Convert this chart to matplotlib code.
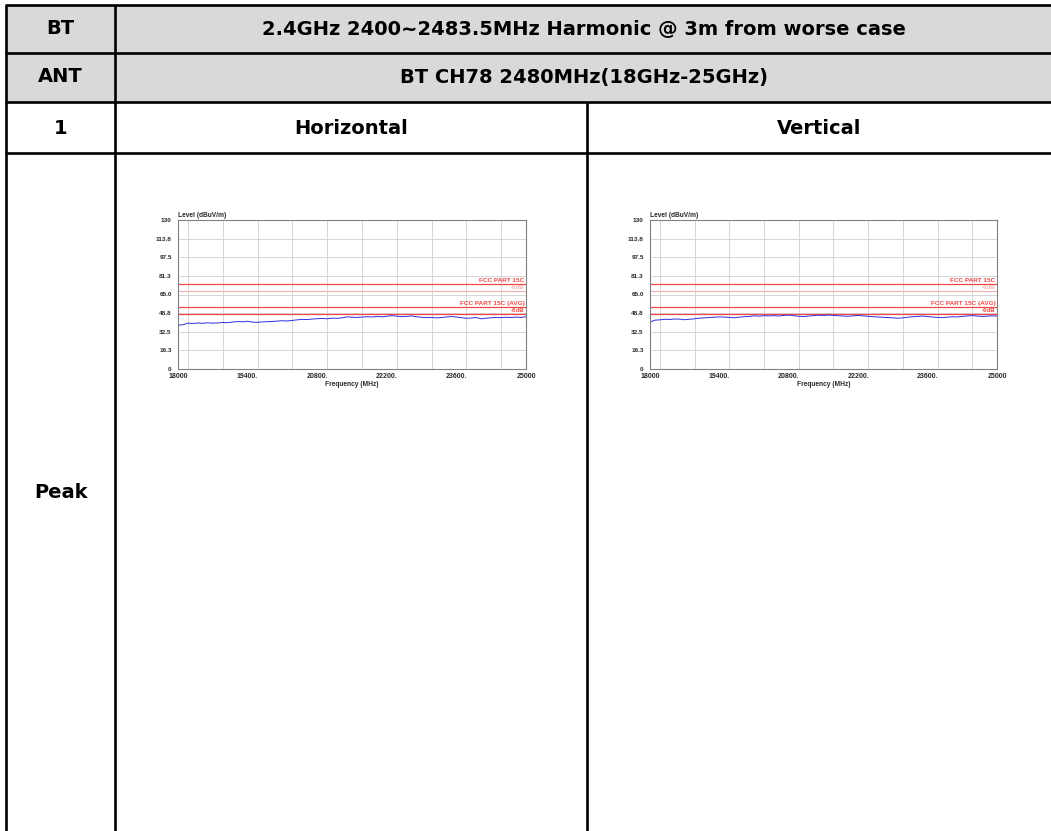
import matplotlib
matplotlib.use('Agg')
import matplotlib.pyplot as plt
import matplotlib.ticker as mticker
from matplotlib.patches import Rectangle

plt.rcParams['font.family'] = 'Liberation Sans'

W, H = 1051, 831
BLACK = "#000000"
GREY_FILL = "#D9D9D9"
RED = "#F04848"
PINK = "#F7B4B4"
BLUE = "#2F2FE0"
FRAME = "#808080"
GRID = "#D0D0D0"
TICK_TXT = "#2A2A2A"

# ---------- table text ----------
header_band = "2.4GHz 2400~2483.5MHz Harmonic @ 3m from worse case"
header_ant = "BT CH78 2480MHz(18GHz-25GHz)"
pol_labels = ["Horizontal", "Vertical"]

# ---------- chart data ----------
freq_mhz = [18000 + 100 * i for i in range(71)]
level_horizontal = [
    38.2, 38.6, 40.0, 39.8, 40.1, 39.9, 40.3, 40.0, 40.2, 40.6,
    40.4, 41.0, 41.4, 41.2, 41.6, 40.9, 40.7, 41.1, 41.3, 41.5,
    41.8, 42.1, 41.9, 42.4, 42.9, 43.3, 43.1, 43.6, 43.9, 44.1,
    43.8, 44.4, 44.2, 44.6, 45.5, 45.2, 45.0, 45.3, 45.6, 45.4,
    45.8, 45.5, 46.0, 46.6, 46.1, 45.7, 45.9, 46.3, 45.6, 45.1,
    44.8, 45.0, 44.6, 44.9, 45.4, 45.8, 45.3, 44.8, 44.2, 44.5,
    44.9, 43.8, 44.3, 44.7, 45.0, 44.8, 45.2, 44.9, 45.3, 45.0,
    45.6,
]
level_vertical = [
    41.0, 42.6, 42.9, 43.4, 43.2, 43.6, 43.5, 43.0, 43.4, 43.8,
    44.4, 44.6, 45.0, 45.2, 45.4, 45.3, 45.0, 44.7, 45.2, 45.6,
    45.9, 46.4, 46.1, 46.5, 46.3, 46.6, 46.2, 46.8, 47.0, 46.5,
    46.0, 45.8, 46.2, 46.6, 46.9, 46.7, 47.1, 46.8, 46.5, 46.2,
    46.0, 46.4, 46.8, 46.3, 46.0, 45.6, 45.4, 45.1, 44.9, 44.6,
    44.3, 44.6, 45.2, 45.6, 45.9, 46.2, 45.8, 45.3, 45.0, 44.8,
    45.2, 45.6, 45.4, 45.9, 46.3, 46.6, 46.2, 45.9, 46.1, 46.4,
    46.2,
]
y_ticks = [0, 16.3, 32.5, 48.8, 65.0, 81.3, 97.5, 113.8, 130]
y_tick_labels = ["0", "16.3", "32.5", "48.8", "65.0", "81.3", "97.5", "113.8", "130"]
x_ticks = [18000, 19400, 20800, 22200, 23600, 25000]
x_tick_labels = ["18000", "19400.", "20800.", "22200.", "23600.", "25000"]
limit_peak = 74
limit_peak_margin = 68
limit_avg = 54
limit_avg_margin = 48

fig = plt.figure(figsize=(W / 100, H / 100), dpi=100)
fig.patch.set_facecolor('white')

# ---------- table (pixel coordinates) ----------
tab = fig.add_axes([0, 0, 1, 1])
tab.set_xlim(0, W)
tab.set_ylim(H, 0)
tab.axis('off')

x_left, x_col, x_mid, x_right = 6, 115, 587, 1052
rows = [5, 53, 102, 153]
tab.add_patch(Rectangle((x_left, rows[0]), x_right - x_left, rows[2] - rows[0],
                        facecolor=GREY_FILL, edgecolor='none'))
for y in rows:
    tab.plot([x_left - 1, x_right], [y, y], color=BLACK, lw=1.9, solid_capstyle='butt')
tab.plot([x_left, x_left], [rows[0], H + 2], color=BLACK, lw=1.9, solid_capstyle='butt')
tab.plot([x_col, x_col], [rows[0], H + 2], color=BLACK, lw=1.9, solid_capstyle='butt')
tab.plot([x_mid, x_mid], [rows[2], H + 2], color=BLACK, lw=1.9, solid_capstyle='butt')

tkw = dict(ha='center', va='center', fontsize=14, fontweight='bold', family='DejaVu Sans')
col_c = (x_left + x_col) / 2
tab.text(col_c, 29, "BT", **tkw)
tab.text(584, 29, header_band, **tkw)
tab.text(col_c, 77, "ANT", **tkw)
tab.text(584, 77, header_ant, **tkw)
tab.text(col_c, 128, "1", **tkw)
tab.text(351, 128, pol_labels[0], **tkw)
tab.text(819, 128, pol_labels[1], **tkw)
tab.text(col_c, 492, "Peak", **tkw)


# ---------- the two scans ----------
def draw_scan(px_left, px_right, levels):
    top, bottom = 220, 369
    ax = fig.add_axes([px_left / W, (H - bottom) / H, (px_right - px_left) / W, (bottom - top) / H])
    ax.set_xlim(18000, 25000)
    ax.set_ylim(0, 130)
    ax.xaxis.set_major_locator(mticker.MultipleLocator(700))
    ax.yaxis.set_major_locator(mticker.FixedLocator(y_ticks))
    ax.grid(True, color=GRID, lw=0.6)
    ax.set_axisbelow(True)
    for s in ax.spines.values():
        s.set_color(FRAME)
        s.set_linewidth(0.8)
    ax.tick_params(length=0, pad=4.5, labelsize=4.6, colors=TICK_TXT)
    ax.set_yticklabels(y_tick_labels, fontweight='bold')
    ax.set_xticklabels([])
    for xv, lab in zip(x_ticks, x_tick_labels):
        ax.text(xv, -3.5, lab, ha='center', va='top', fontsize=5.0, fontweight='bold', color=TICK_TXT)
    ax.text(18000, 131, "Level (dBuV/m)", ha='left', va='bottom',
            fontsize=4.8, fontweight='bold', color=TICK_TXT)
    ax.text(21500, -10.5, "Frequency (MHz)", ha='center', va='top', fontsize=4.8,
            fontweight='bold', color=TICK_TXT)

    ax.axhline(limit_peak, color=RED, lw=0.9)
    ax.axhline(limit_peak_margin, color=PINK, lw=0.9)
    ax.axhline(limit_avg, color=RED, lw=0.9)
    ax.axhline(limit_avg_margin, color=RED, lw=0.9)
    xr = 24970
    ax.text(xr, limit_peak + 0.8, "FCC PART 15C", ha='right', va='bottom', fontsize=4.6,
            fontweight='bold', color=RED)
    ax.text(xr, limit_peak - 0.5, "-6dB", ha='right', va='top', fontsize=4.4,
            fontweight='bold', color=PINK)
    ax.text(xr, limit_avg + 0.8, "FCC PART 15C (AVG)", ha='right', va='bottom', fontsize=4.6,
            fontweight='bold', color=RED)
    ax.text(xr, limit_avg - 0.5, "-6dB", ha='right', va='top', fontsize=4.4,
            fontweight='bold', color=RED)

    ax.plot(freq_mhz, levels, color=BLUE, lw=0.7)


draw_scan(178, 526, level_horizontal)
draw_scan(650, 997, level_vertical)

fig.savefig('out.png', dpi=100, facecolor='white')
